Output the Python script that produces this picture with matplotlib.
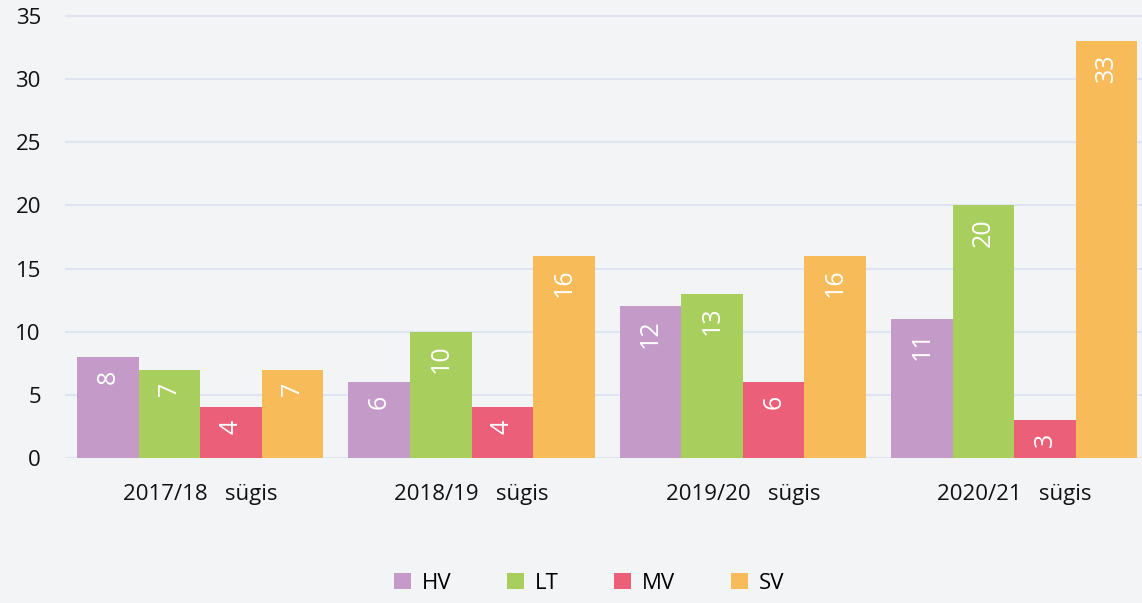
'''
Grouped bar chart: counts per season (sügis) for HV, LT, MV, SV
'''

import numpy as np
import matplotlib.pyplot as plt
from matplotlib.patches import Patch

plt.rcParams['font.family'] = ['Open Sans', 'DejaVu Sans']

categories = ['2017/18   sügis', '2018/19   sügis', '2019/20   sügis', '2020/21   sügis']
series_names = ['HV', 'LT', 'MV', 'SV']
hv = [8, 6, 12, 11]
lt = [7, 10, 13, 20]
mv = [4, 4, 6, 3]
sv = [7, 16, 16, 33]
colors = ['#c49bc8', '#a8cf5e', '#ec5f78', '#f8bb5a']
y_ticks = [0, 5, 10, 15, 20, 25, 30, 35]


def plot_grouped_bars():
    '''
    Draw the grouped bars with rotated value labels and save out.png
    '''
    fig = plt.figure(figsize=(11.42, 6.03), dpi=100)
    fig.patch.set_facecolor('#f3f4f6')
    # axes runs a little past the right edge, like the original
    ax = fig.add_axes([64.5 / 1142, 145 / 603, 1085.5 / 1142, 454.7 / 603])
    ax.set_facecolor('none')

    x = np.arange(len(categories))
    all_values = [hv, lt, mv, sv]
    width = 0.907 / 4
    for i, values in enumerate(all_values):
        pos = x - 0.907 / 2 + width * (i + 0.5)
        bars = ax.bar(pos, values, width, color=colors[i], zorder=3)
        for bar, val in zip(bars, values):
            ax.annotate(str(val), (bar.get_x() + bar.get_width() / 2, val),
                        xytext=(0, -9), textcoords='offset points',
                        rotation=90, ha='center', va='top',
                        color='white', fontsize=18, zorder=4)

    ax.set_xlim(-0.5, len(categories) - 0.5)
    ax.set_ylim(0, 36)
    ax.set_yticks(y_ticks)
    ax.set_xticks(x)
    ax.set_xticklabels(categories)
    ax.tick_params(axis='both', length=0, labelsize=16, colors='#111111')
    ax.tick_params(axis='y', pad=17)
    ax.tick_params(axis='x', pad=19)
    ax.grid(axis='y', color='#dfe4f1', linewidth=1.5, zorder=0)
    for spine in ax.spines.values():
        spine.set_visible(False)

    handles = [Patch(facecolor=c, edgecolor='none') for c in colors]
    fig.legend(handles, series_names, loc='center', ncol=4,
               bbox_to_anchor=(0.516, 0.033), frameon=False, fontsize=16,
               handlelength=0.75, handleheight=0.75, handletextpad=0.5,
               columnspacing=2.5)

    fig.savefig('out.png', dpi=100, facecolor=fig.get_facecolor())


plot_grouped_bars()
